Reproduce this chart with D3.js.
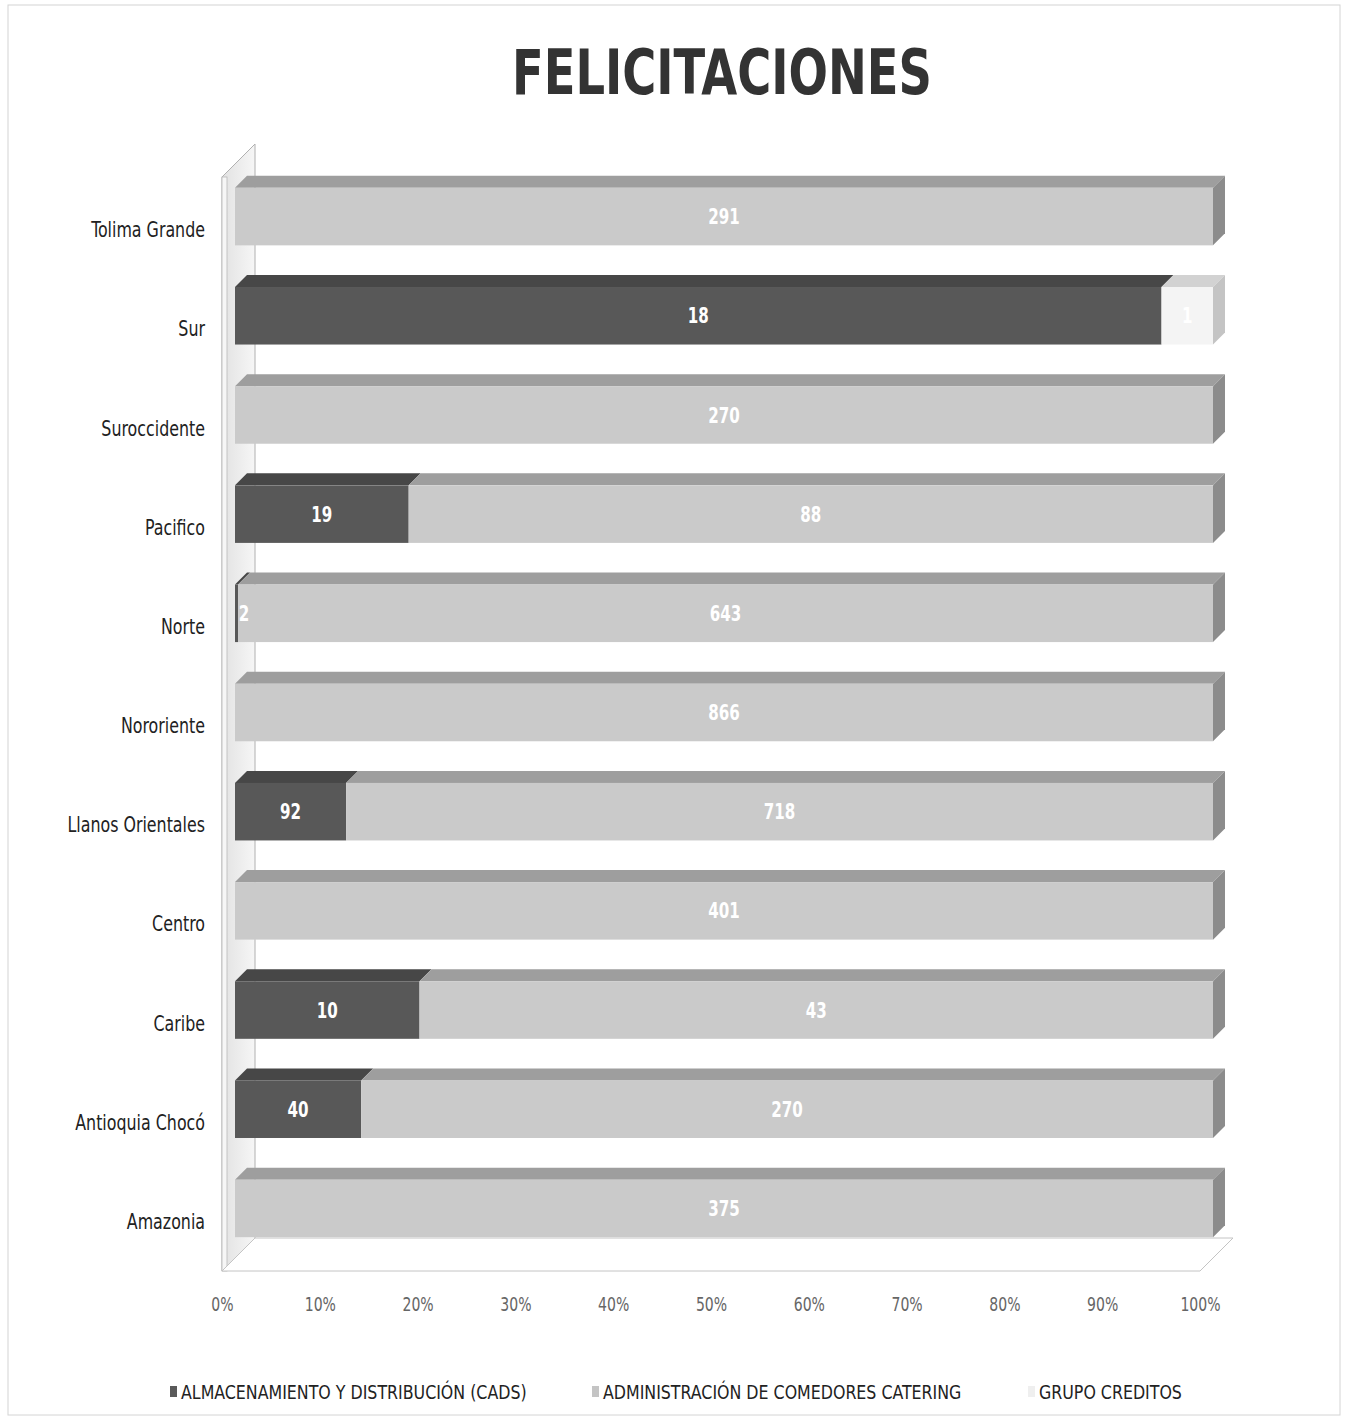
<!DOCTYPE html>
<html><head><meta charset="utf-8">
<script src="https://cdn.jsdelivr.net/npm/d3@7"></script>
<style>
html,body{margin:0;padding:0;background:#fff;}
svg{display:block;}
</style></head>
<body><svg id="chart" width="1345" height="1420"></svg>
<script>
const title = "FELICITACIONES";
const categories = ["Tolima Grande","Sur","Suroccidente","Pacifico","Norte","Nororiente","Llanos Orientales","Centro","Caribe","Antioquia Chocó","Amazonia"];
const seriesNames = ["ALMACENAMIENTO Y DISTRIBUCIÓN (CADS)","ADMINISTRACIÓN DE COMEDORES CATERING","GRUPO CREDITOS"];
const almacenamiento = [0,18,0,19,2,0,92,0,10,40,0];
const administracion = [291,0,270,88,643,866,718,401,43,270,375];
const creditos = [0,1,0,0,0,0,0,0,0,0,0];
const tickValues = [0,0.1,0.2,0.3,0.4,0.5,0.6,0.7,0.8,0.9,1];

const seriesValues = [almacenamiento, administracion, creditos];
const colors = [
  {front:"#585858", top:"#474747", side:"#3c3c3c", legend:"#5a5a5a"},
  {front:"#cacaca", top:"#9e9e9e", side:"#8c8c8c", legend:"#c4c4c4"},
  {front:"#f4f4f4", top:"#d2d2d2", side:"#c4c4c4", legend:"#efefef"}
];
const FONT = "'Liberation Sans Narrow','DejaVu Sans Condensed','Arial Narrow',sans-serif";

function placeNarrow(sel, fx, fy, sx){
  sel.attr("x",0).attr("y",0)
     .attr("transform",(d,i)=>`translate(${fx(d,i)},${fy(d,i)}) scale(${sx},1)`);
}

const svg = d3.select("#chart");
svg.append("rect").attr("x",8).attr("y",5).attr("width",1332).attr("height",1410)
  .attr("fill","#fff").attr("stroke","#d4d4d4").attr("stroke-width",1);

// title
svg.append("text").attr("x",722).attr("y",94).attr("text-anchor","middle")
  .attr("font-family",FONT).attr("font-weight","bold").attr("font-size",62)
  .attr("fill","#333").attr("textLength",420).attr("lengthAdjust","spacingAndGlyphs")
  .text(title);

// scales (front plane of the floor)
const x = d3.scaleLinear().domain([0,1]).range([222,1200]);
const y = d3.scaleBand().domain(categories).range([180,1271]).paddingInner(0.42).paddingOuter(0.21);
const wallD = 33;
const barOff = 13;
const barD = 12;

// wall
const wallTop = 177, floorY = 1271;
const defs = svg.append("defs");
const wg = defs.append("linearGradient").attr("id","wallg").attr("x1","0").attr("x2","1").attr("y1","0").attr("y2","0");
wg.append("stop").attr("offset","0%").attr("stop-color","#e2e2e2");
wg.append("stop").attr("offset","100%").attr("stop-color","#f6f6f6");
svg.append("path")
  .attr("d",`M${x(0)},${wallTop} L${x(0)+wallD},${wallTop-wallD} L${x(0)+wallD},${floorY-wallD} L${x(0)},${floorY} Z`)
  .attr("fill","url(#wallg)").attr("stroke","#b0b0b0").attr("stroke-width",1);
svg.append("rect").attr("x",x(0)).attr("y",wallTop).attr("width",5).attr("height",floorY-wallTop)
  .attr("fill","#f6f6f6").attr("stroke","#b8b8b8").attr("stroke-width",0.8);
// floor
svg.append("path")
  .attr("d",`M${x(0)},${floorY} L${x(0)+wallD},${floorY-wallD} L${x(1)+wallD},${floorY-wallD} L${x(1)},${floorY} Z`)
  .attr("fill","#fff").attr("stroke","#c4c4c4").attr("stroke-width",1);

// bars
const stacked = categories.map((c,i)=>{
  const total = d3.sum(seriesValues, s=>s[i]);
  let acc = 0;
  return seriesValues.map((s,k)=>{
    const v = s[i];
    const seg = {cat:c, k, v, p0:acc/total, p1:(acc+v)/total};
    acc += v;
    return seg;
  }).filter(d=>d.v>0);
});

const gBars = svg.append("g");
const gLabels = svg.append("g");
stacked.forEach(segs=>{
  segs.forEach((d,j)=>{
    const x0 = x(d.p0)+barOff, x1 = x(d.p1)+barOff;
    const yT = y(d.cat)-barOff, yB = yT + y.bandwidth();
    const c = colors[d.k];
    gBars.append("path")
      .attr("d",`M${x0},${yT} L${x0+barD},${yT-barD} L${x1+barD},${yT-barD} L${x1},${yT} Z`)
      .attr("fill",c.top);
    gBars.append("rect").attr("x",x0).attr("y",yT).attr("width",Math.max(x1-x0,1)).attr("height",yB-yT)
      .attr("fill",c.front);
    if (j===segs.length-1){
      gBars.append("path")
        .attr("d",`M${x1},${yT} L${x1+barD},${yT-barD} L${x1+barD},${yB-barD} L${x1},${yB} Z`)
        .attr("fill",c.side);
    }
    const t = gLabels.append("text").datum(d)
      .attr("dy","0.36em")
      .attr("text-anchor","middle").attr("font-family",FONT).attr("font-weight","bold")
      .attr("font-size",21).attr("fill","#fff").text(d.v);
    placeNarrow(t, ()=>Math.max((x0+x1)/2, x0+9), ()=>(yT+yB)/2, 0.8);
  });
});

// category labels
const cl = svg.append("g").selectAll("text").data(categories).join("text")
  .attr("dy","0.36em")
  .attr("text-anchor","end").attr("font-family",FONT).attr("font-size",21)
  .attr("fill","#222").text(d=>d);
placeNarrow(cl, ()=>205, d=>y(d)+y.bandwidth()/2, 0.84);

// x axis
const ax = svg.append("g").attr("transform",`translate(0,${floorY})`)
  .call(d3.axisBottom(x).tickValues(tickValues).tickFormat(d3.format(".0%")).tickSize(0).tickPadding(26));
ax.select(".domain").remove();
ax.selectAll("text").attr("font-family",FONT).attr("font-size",20).attr("fill","#666")
  .attr("transform","scale(0.78,1)");

// legend
const legendX = [170, 592, 1028];
const lg = svg.append("g").selectAll("g").data(seriesNames).join("g")
  .attr("transform",(d,i)=>`translate(${legendX[i]},1392)`);
lg.append("rect").attr("x",0).attr("y",-6).attr("width",7).attr("height",11)
  .attr("fill",(d,i)=>colors[i].legend);
lg.append("text").attr("y",0).attr("dy","0.36em")
  .attr("font-family",FONT).attr("font-size",20).attr("fill","#222").text(d=>d)
  .attr("transform","scale(0.88,1)").attr("x",11/0.88);
</script></body></html>
